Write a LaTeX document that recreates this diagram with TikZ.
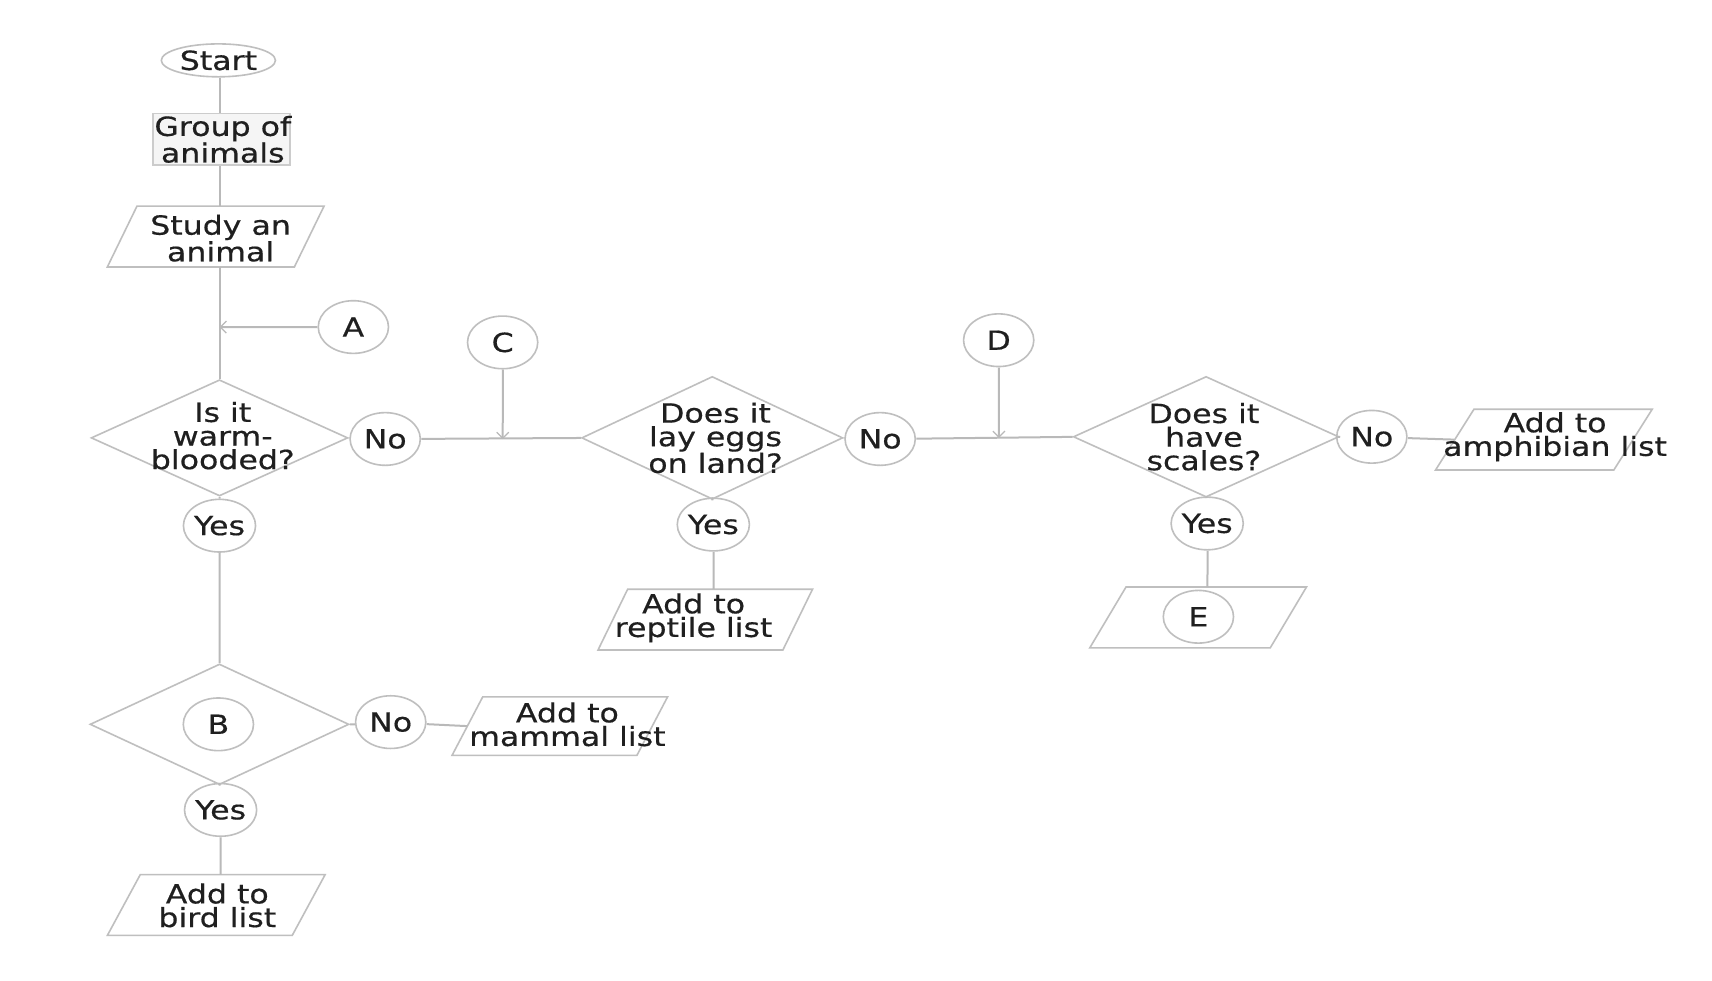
\documentclass[tikz,border=0pt]{standalone}
\usepackage{fontspec}
\setmainfont{DejaVu Sans}[FakeStretch=1.2,FakeBold=0.5]
\usetikzlibrary{shapes.geometric,arrows.meta}
\newcommand\parabox[2]{%
  \draw[shp] ([xshift=#2]#1.north west) -- (#1.north east) -- ([xshift=-#2]#1.south east) -- (#1.south west) -- cycle;}
\begin{document}
\begin{tikzpicture}[x=1pt,y=-1pt,scale=1.097436,
  every node/.append style={transform shape},
  line/.style={draw=gray!55, line width=2pt},
  shp/.style={draw=gray!50, line width=1.6pt},
  txt/.style={font=\fontsize{24}{21.5}\selectfont, text=black!88, align=center, inner sep=0pt},
  term/.style={shp, ellipse, minimum width=104pt, minimum height=30pt, txt},
  conn/.style={shp, ellipse, minimum width=64pt, minimum height=48pt, txt},
  dia/.style={shp, diamond, inner sep=0pt},
  pbox/.style={minimum height=55pt, inner sep=0pt},
  arr/.style={line, -{Straight Barb[length=6pt,width=12pt,line width=1.2pt]}},
]
\useasboundingbox[fill=white] (0,0) rectangle (1560,893);

% main column
\node[term] (start) at (199,55) {Start};
\node[shp, fill=gray!8, draw=gray!40, minimum width=125pt, minimum height=47pt, inner sep=0pt] (group) at (202,127) {};
\node[txt] (groupt) at (203,127) {Group of\\animals};
\node[pbox, minimum width=197pt] (study) at (196.5,215.5) {};
\node[txt] (studyt) at (201,217) {Study an\\animal};
\parabox{study}{27pt}

\node[dia, minimum width=234pt, minimum height=106pt] (d1) at (200,399) {};
\node[txt] (d1t) at (203,397) {Is it\\warm-\\blooded?};

\node[conn] (A) at (322,298) {A};
\coordinate (ja) at (200,298);

\draw[line] (d1.north |- start.south) -- (d1.north |- group.north);
\draw[line] (d1.north |- group.south) -- (d1.north |- study.north);
\draw[line] (d1.north |- study.south) -- (d1.north);
\draw[arr] (A) -- (ja);

% first row
\node[conn] (no1) at (351,400) {No};
\node[conn] (C) at (458,312) {C};
\coordinate (jc) at (458,400);
\node[dia, minimum width=238pt, minimum height=112pt] (d2) at (649,399) {};
\node[txt] (d2t) at (652,399) {Does it\\lay eggs\\on land?};
\node[conn] (no2) at (802,400) {No};
\node[conn] (D) at (910,310) {D};
\coordinate (jd) at (910,399);
\node[dia, minimum width=242pt, minimum height=110pt] (d3) at (1099,398) {};
\node[txt] (d3t) at (1097,398) {Does it\\have\\scales?};
\node[conn] (no3) at (1250,398) {No};
\node[pbox, minimum width=197pt] (amph) at (1406.5,400.5) {};
\parabox{amph}{35pt}
\node[txt] (ampht) at (1417,398) {Add to\\amphibian list};

\draw[line] (d1.east) -- (no1);
\draw[line] (no1) -- (d2.west);
\draw[arr] (C) -- (jc);
\draw[line] (d2.east) -- (no2);
\draw[line] (no2) -- (d3.west);
\draw[arr] (D) -- (jd);
\draw[line] (d3.east) -- (no3);
\draw[line] (no3) -- ([xshift=17pt]amph.west);

% yes branches
\node[conn] (yes1) at (200,479) {Yes};
\node[dia, minimum width=236pt, minimum height=110pt] (dB) at (200,660) {};
\node[conn] (B) at (199,660) {B};
\node[conn] (noB) at (356,658) {No};
\node[pbox, minimum width=196pt, minimum height=53pt] (mam) at (510,661.5) {};
\parabox{mam}{28pt}
\node[txt] (mamt) at (517,660) {Add to\\mammal list};
\node[conn] (yesB) at (201,738) {Yes};
\node[pbox, minimum width=198pt] (bird) at (197,824.5) {};
\parabox{bird}{30pt}
\node[txt] (birdt) at (198,825) {Add to\\bird list};

\draw[line] (d1.south) -- (yes1);
\draw[line] (yes1) -- (dB.north);
\draw[line] (dB.east) -- (noB);
\draw[line] (noB) -- ([xshift=14pt]mam.west);
\draw[line] (dB.south) -- (yesB);
\draw[line] (yesB) -- (yesB |- bird.north);

\node[conn] (yes2) at (650,478) {Yes};
\node[pbox, minimum width=195pt] (rep) at (642.5,564.5) {};
\parabox{rep}{27pt}
\node[txt] (rept) at (632,563) {Add to\\reptile list};
\draw[line] (d2.south) -- (yes2);
\draw[line] (yes2) -- (yes2 |- rep.north);

\node[conn] (yes3) at (1100,477) {Yes};
\node[pbox, minimum width=197pt] (eb) at (1091.5,562.5) {};
\parabox{eb}{33pt}
\node[conn] (E) at (1092,562) {E};
\draw[line] (d3.south) -- (yes3);
\draw[line] (yes3) -- (yes3 |- eb.north);
\end{tikzpicture}
\end{document}
